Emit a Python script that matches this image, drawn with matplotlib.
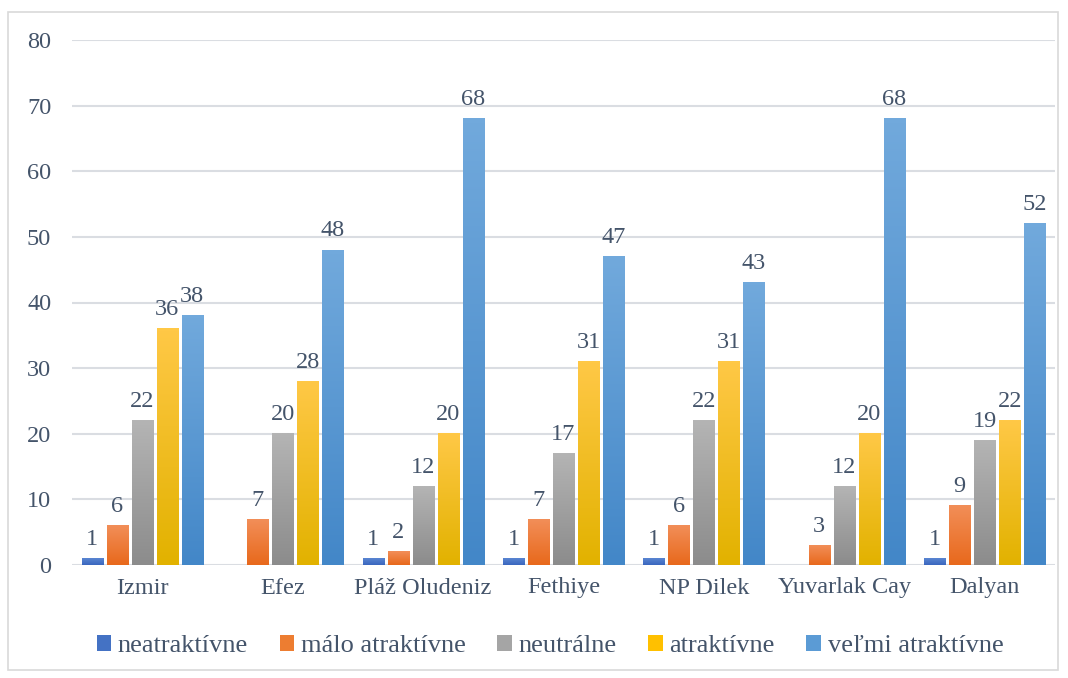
import numpy as np
import matplotlib
matplotlib.use("Agg")
import matplotlib.pyplot as plt
from matplotlib.colors import LinearSegmentedColormap
from matplotlib.patches import Rectangle, Patch

categories = ["Izmir", "Efez", "Pláž Oludeniz", "Fethiye", "NP Dilek", "Yuvarlak Cay", "Dalyan"]
series_names = ["neatraktívne", "málo atraktívne", "neutrálne", "atraktívne", "veľmi atraktívne"]
neatraktivne = [1, 0, 1, 1, 1, 0, 1]
malo_atraktivne = [6, 7, 2, 7, 6, 3, 9]
neutralne = [22, 20, 12, 17, 22, 12, 19]
atraktivne = [36, 28, 20, 31, 31, 20, 22]
velmi_atraktivne = [38, 48, 68, 47, 43, 68, 52]
series = [neatraktivne, malo_atraktivne, neutralne, atraktivne, velmi_atraktivne]

# (bottom colour, top colour) for the Excel-like gradient fills
grads = [("#3A66BE", "#5A86D2"),
         ("#E8691C", "#F28E58"),
         ("#8C8C8C", "#B4B4B4"),
         ("#E2B200", "#FFC846"),
         ("#4387C8", "#71A9DC")]
legend_colors = ["#4472C4", "#ED7D31", "#A5A5A5", "#FFC000", "#5B9BD5"]

text_color = "#44546A"
plt.rcParams['font.family'] = ['Liberation Serif', 'DejaVu Serif']

fig = plt.figure(figsize=(10.68, 6.78), dpi=100)
fig.patches.append(Rectangle((8 / 1068, 1 - 670 / 678), 1050 / 1068, 658 / 678,
                             transform=fig.transFigure, fill=False,
                             edgecolor="#D9D9D9", lw=1.2))
ax = fig.add_axes([72 / 1068, 1 - 565 / 678, 983 / 1068, 525 / 678])

x = np.arange(len(categories))
width = 0.15
step = 0.178
for i, vals in enumerate(series):
    pos = x + (i - 2) * step
    bars = ax.bar(pos, vals, width, color="none", edgecolor="none", zorder=3)
    cmap = LinearSegmentedColormap.from_list("g%d" % i, [grads[i][0], grads[i][1]])
    for b, v in zip(bars, vals):
        if v == 0:
            continue
        x0 = b.get_x()
        grad = np.linspace(1, 0, 64).reshape(-1, 1)
        ax.imshow(grad, cmap=cmap, extent=(x0, x0 + b.get_width(), 0, v),
                  aspect="auto", zorder=3, interpolation="bilinear")
        ax.text(b.get_x() + b.get_width() / 2, v + 1.3, str(v), ha="center", va="bottom",
                fontsize=17.5, color=text_color, zorder=4)

ax.set_xlim(-0.5, len(categories) - 0.5)
ax.set_ylim(0, 80)
ax.set_yticks(range(0, 81, 10))
ax.set_xticks(x)
ax.set_xticklabels(categories)
ax.yaxis.grid(True, color="#DADDE2", lw=1.5, zorder=0)
ax.set_axisbelow(True)
for s in ax.spines.values():
    s.set_visible(False)
ax.tick_params(axis="both", length=0, labelsize=17.5, labelcolor=text_color)
ax.tick_params(axis="y", pad=15)
ax.tick_params(axis="x", pad=9)

handles = [Patch(facecolor=c, edgecolor="none") for c in legend_colors]
fig.legend(handles, series_names, loc="center", bbox_to_anchor=(0.515, 1 - 646 / 678),
           ncol=5, frameon=False, fontsize=19, labelcolor=text_color,
           handlelength=0.55, handleheight=0.55, handletextpad=0.25, columnspacing=1.2)

fig.savefig("out.png", dpi=100)
